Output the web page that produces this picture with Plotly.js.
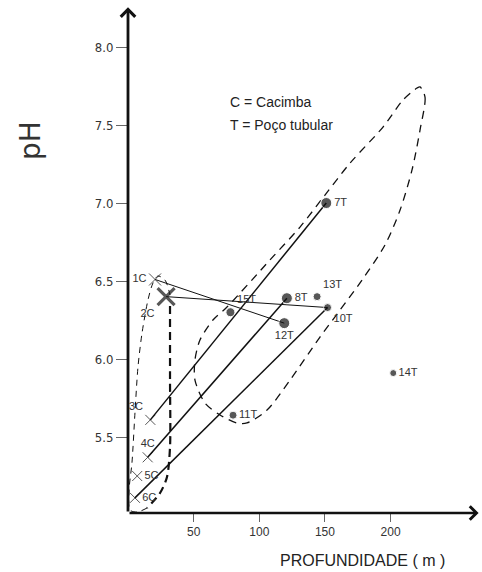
<!DOCTYPE html>
<html><head><meta charset="utf-8">
<script src="https://cdn.plot.ly/plotly-3.0.1.min.js"></script>
<style>html,body{margin:0;padding:0;background:#fff}#chart{width:482px;height:572px}</style>
</head><body><div id="chart"></div>
<script>
// Poços tubulares (T): profundidade (m) e pH
const tNames = ['7T','8T','10T','11T','12T','13T','14T','15T'];
const tDepth = [151, 121, 152, 80, 119, 144, 202, 78];
const tPH    = [7.00, 6.39, 6.33, 5.64, 6.23, 6.40, 5.91, 6.30];
const tSize  = [11, 11, 8, 8, 11, 8, 7, 9];
const tLabelPos = ['middle right','middle right','bottom right','middle right','bottom center','top right','middle right','top right'];

// Cacimbas (C)
const cNames = ['1C','2C','3C','4C','5C','6C'];
const cDepth = [20.6, 29, 17, 15, 7, 5.3];
const cPH    = [6.51, 6.40, 5.61, 5.37, 5.25, 5.11];
const cSize  = [12, 17, 10, 10, 10, 10];
const cWidth = [1, 3.2, 1, 1, 1, 1];
const cLabelPos = ['middle left','bottom left','top left','top center','middle right','middle right'];

// Ligações entre pontos
const links = [['1C','12T'],['2C','10T'],['3C','7T'],['4C','8T'],['6C','10T']];
const linkWidth = [1, 1, 1.5, 1.5, 1.5];

// Contorno tracejado do grupo T
const groupTDepth = [222.4,226.2,222.4,216.3,207.2,195.7,178.2,161.5,146.2,123.4,105.9,90.6,83.0,70.1,58.6,51.0,51.0,54.8,64.7,75.4,108.1,131.0,150.0,169.1,194.2,209.4,220.1,222.4];
const groupTPH    = [7.744,7.679,7.468,7.212,6.955,6.731,6.506,6.314,6.141,5.865,5.673,5.590,5.590,5.641,5.718,5.865,5.994,6.122,6.250,6.333,6.635,6.846,7.051,7.256,7.487,7.660,7.737,7.744];

// Contorno tracejado do grupo C (lado direito grosso, lado esquerdo fino)
const groupCRightDepth = [32.0,32.0,32.0,29.7,24.4,14.5];
const groupCRightPH    = [6.34,5.865,5.436,5.244,5.141,5.045];
const groupCLeftDepth  = [14.5,6.9,1.5,0.8,3.0,5.3,7.6,10.7,15.2,19.0,22.8,28.2,32.0];
const groupCLeftPH     = [5.045,5.019,5.032,5.160,5.333,5.654,5.949,6.167,6.378,6.487,6.532,6.506,6.41];

const xTicks = [50, 100, 150, 200];
const yTicks = [5.5, 6.0, 6.5, 7.0, 7.5, 8.0];
const yTickText = ['5.5','6.0','6.5','7.0','7.5','8.0'];

const X_MIN = 0, X_MAX = 269.6, Y_MIN = 5.013, Y_MAX = 8.263;

const lookup = {};
tNames.forEach((n,i)=>lookup[n]=[tDepth[i], tPH[i]]);
cNames.forEach((n,i)=>lookup[n]=[cDepth[i], cPH[i]]);

const traces = [];
traces.push({x: groupTDepth, y: groupTPH, mode:'lines', line:{color:'#111', width:1.3, dash:'8px,6px', shape:'spline', smoothing:0.8}, hoverinfo:'skip', cliponaxis:false});
traces.push({x: groupCLeftDepth, y: groupCLeftPH, mode:'lines', line:{color:'#111', width:1, dash:'6px,5px', shape:'spline', smoothing:0.8}, hoverinfo:'skip', cliponaxis:false});
traces.push({x: groupCRightDepth, y: groupCRightPH, mode:'lines', line:{color:'#111', width:2.2, dash:'8px,5px', shape:'spline', smoothing:0.8}, hoverinfo:'skip', cliponaxis:false});

links.forEach((l,i)=>{
  const a = lookup[l[0]], b = lookup[l[1]];
  traces.push({x:[a[0], b[0]], y:[a[1], b[1]], mode:'lines', line:{color:'#111', width:linkWidth[i]}, hoverinfo:'skip'});
});

traces.push({x: tDepth, y: tPH, text: tNames, mode:'markers+text', textposition: tLabelPos,
  marker:{color:'#111', size:tSize}, textfont:{family:'Liberation Sans, Arial, sans-serif', size:11, color:'#333'}, cliponaxis:false});
traces.push({x: cDepth, y: cPH, text: cNames, mode:'markers+text', textposition: cLabelPos,
  marker:{symbol:'x-thin', color:'#111', size:cSize, line:{color:'#111', width:cWidth}}, textfont:{family:'Liberation Sans, Arial, sans-serif', size:11, color:'#333'}, cliponaxis:false});

const pw = 482-128, ph = 572-65;
const layout = {
  width:482, height:572,
  margin:{l:128, r:0, t:6, b:59},
  paper_bgcolor:'#fff', plot_bgcolor:'#fff',
  showlegend:false,
  xaxis:{range:[X_MIN, X_MAX], showgrid:false, zeroline:false, showline:false,
    tickmode:'array', tickvals:xTicks, ticks:'outside', ticklen:8, tickwidth:1, tickcolor:'#666',
    tickfont:{family:'Liberation Sans, Arial, sans-serif', size:12, color:'#333'}},
  yaxis:{range:[Y_MIN, Y_MAX], showgrid:false, zeroline:false, showline:false,
    tickmode:'array', tickvals:yTicks, ticktext:yTickText, ticks:'outside', ticklen:11, tickwidth:1, tickcolor:'#666',
    tickfont:{family:'Liberation Sans Narrow, DejaVu Sans Condensed, Arial, sans-serif', size:13, color:'#333'}},
  annotations:[
    {x:267, y:Y_MIN, ax:X_MIN, ay:Y_MIN, xref:'x', yref:'y', axref:'x', ayref:'y', text:'', showarrow:true, arrowhead:4, arrowsize:1, arrowwidth:2.6, arrowcolor:'#111'},
    {x:X_MIN, y:8.255, ax:X_MIN, ay:Y_MIN, xref:'x', yref:'y', axref:'x', ayref:'y', text:'', showarrow:true, arrowhead:4, arrowsize:1, arrowwidth:2.8, arrowcolor:'#111'},
    {x:76, y:7.65, xref:'x', yref:'y', xanchor:'left', yanchor:'middle', showarrow:false, text:'C = Cacimba', font:{family:'Liberation Sans, Arial, sans-serif', size:14, color:'#222'}},
    {x:76, y:7.50, xref:'x', yref:'y', xanchor:'left', yanchor:'middle', showarrow:false, text:'T = Poço tubular', font:{family:'Liberation Sans, Arial, sans-serif', size:14, color:'#222'}},
    {x:(362-128)/pw, y:(513-560)/ph, xref:'paper', yref:'paper', xanchor:'center', yanchor:'middle', showarrow:false, text:'PROFUNDIDADE ( m )', font:{family:'Liberation Sans, Arial, sans-serif', size:16, color:'#222'}},
    {x:(30-128)/pw, y:(513-141)/ph, xref:'paper', yref:'paper', xanchor:'center', yanchor:'middle', showarrow:false, text:'pH', textangle:-90, font:{family:'DejaVu Sans, sans-serif', size:28, color:'#333'}}
  ]
};

Plotly.newPlot('chart', traces, layout, {staticPlot:true, displayModeBar:false});
</script>
</body></html>
